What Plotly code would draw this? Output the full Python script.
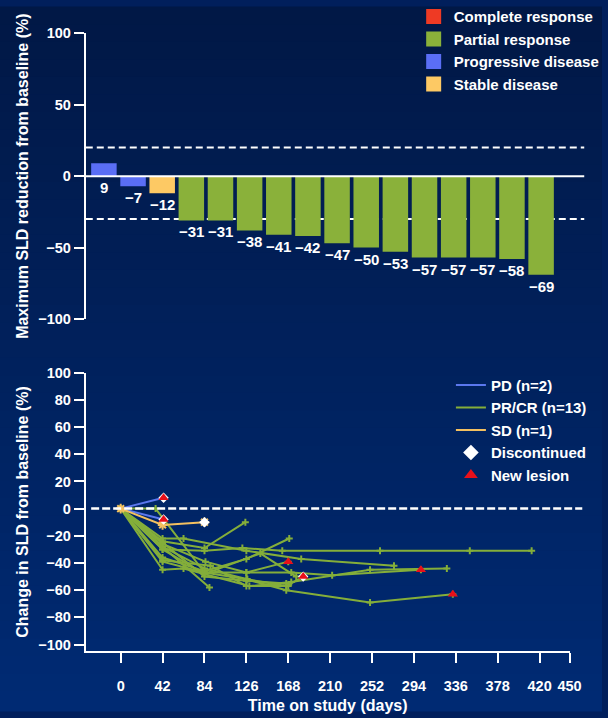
import plotly.graph_objects as go

# ---------------- data ----------------
# Waterfall (best response)
bar_values = [9, -7, -12, -31, -31, -38, -41, -42, -47, -50, -53, -57, -57, -57, -58, -69]
bar_response = ["PD", "PD", "SD", "PR", "PR", "PR", "PR", "PR", "PR", "PR", "PR", "PR", "PR", "PR", "PR", "PR"]

# Spider plot: PD patients
pd_days = [[0, 43], [0, 43]]
pd_vals = [[0, 8], [0, -8]]
# SD patient
sd_days = [0, 42, 84]
sd_vals = [0, -12, -10]
# PR/CR patients
pr_days = [
    [0, 42, 84, 122, 162, 260, 350, 412],
    [0, 42, 84, 125],
    [0, 42, 63, 126, 181, 274],
    [0, 42, 84, 126, 169],
    [0, 42, 89],
    [0, 42, 84, 126, 166, 250, 333],
    [0, 42, 85, 126, 168],
    [0, 42, 84, 127, 166, 183],
    [0, 35, 84, 126, 171, 212, 301],
    [0, 42, 63, 129, 171, 250, 327],
    [0, 42, 90, 126, 168],
    [0, 42, 84, 126, 166],
    [0, 42, 84, 140, 176],
]
pr_vals = [
    [0, -30, -31, -29, -31, -31, -31, -31],
    [0, -24, -29, -10],
    [0, -22, -22, -31, -37, -42],
    [0, -36, -46, -37, -22],
    [0, -28, -58],
    [0, -39, -47, -52, -60, -69, -63],
    [0, -26, -39, -47, -39],
    [0, -28, -44, -52, -57, -50],
    [0, 0, -47, -47, -47, -49, -45],
    [0, -45, -44, -57, -54, -45, -44],
    [0, -38, -42, -57, -57],
    [0, -25, -50, -53, -55],
    [0, -30, -48, -33, -50],
]
# Event markers
disc_days = [43, 43, 84, 183]
disc_vals = [8, -8, -10, -50]
newlesion_days = [43, 43, 168, 183, 301, 333]
newlesion_vals = [8, -8, -39, -50, -45, -63]

x_ticks = [0, 42, 84, 126, 168, 210, 252, 294, 336, 378, 420, 450]

# ---------------- styling ----------------
FONT = "Liberation Sans, Arial, sans-serif"
WHITE = "white"
C_CR = "#ee3a24"
C_PR = "#8ab13a"
C_PD = "#5a6ef5"
C_SD = "#fdc964"
L_PD = "#5b78ee"
L_PR = "#84ae3a"
L_SD = "#f3c060"
RED = "#e8101a"
bar_color_map = {"CR": C_CR, "PR": C_PR, "PD": C_PD, "SD": C_SD}

fig = go.Figure()

# background gradient
top_rgb = (1, 24, 70)
bot_rgb = (0, 42, 115)
n_bands = 40
shapes = []
for i in range(n_bands):
    t = i / (n_bands - 1)
    r = round(top_rgb[0] + (bot_rgb[0] - top_rgb[0]) * t)
    g = round(top_rgb[1] + (bot_rgb[1] - top_rgb[1]) * t)
    b = round(top_rgb[2] + (bot_rgb[2] - top_rgb[2]) * t)
    y1 = 1 - i / n_bands + 0.002
    y0 = 1 - (i + 1) / n_bands - 0.002
    shapes.append(dict(type="rect", xref="paper", yref="paper", x0=-0.01, x1=1.01, y0=y0, y1=y1,
                       fillcolor=f"rgb({r},{g},{b})", line=dict(width=0), layer="below"))

# ---- waterfall ----
idx = list(range(len(bar_values)))
fig.add_trace(go.Bar(x=idx, y=bar_values, marker_color=[bar_color_map[r] for r in bar_response],
                     marker_line_width=0, width=0.875, showlegend=False, xaxis="x", yaxis="y",
                     hoverinfo="skip"))
for name, col in [("Complete response", C_CR), ("Partial response", C_PR),
                  ("Progressive disease", C_PD), ("Stable disease", C_SD)]:
    fig.add_trace(go.Scatter(x=[None], y=[None], mode="markers", name=name,
                             marker=dict(symbol="square", size=15, color=col),
                             xaxis="x", yaxis="y", legend="legend"))

annotations = []
for i, v in enumerate(bar_values):
    label = str(v) if v >= 0 else "\u2212" + str(-v)
    annotations.append(dict(x=i, y=min(v, 0), xref="x", yref="y", text=label, showarrow=False,
                            yanchor="top", yshift=-1,
                            font=dict(family=FONT, size=15, color=WHITE, weight="bold")))

# reference lines on waterfall
shapes.append(dict(type="line", xref="x domain", yref="y", x0=0, x1=1, y0=20, y1=20,
                   line=dict(color=WHITE, width=2, dash="7px,4px"), layer="below"))
shapes.append(dict(type="line", xref="x domain", yref="y", x0=0, x1=1, y0=-30, y1=-30,
                   line=dict(color=WHITE, width=2, dash="7px,4px"), layer="below"))
shapes.append(dict(type="line", xref="x domain", yref="y", x0=0, x1=1, y0=0, y1=0,
                   line=dict(color=WHITE, width=2), layer="above"))

# ---- spider plot ----
shapes.append(dict(type="line", xref="paper", yref="y2", x0=93 / 608, x1=594 / 608, y0=0, y1=0,
                   line=dict(color=WHITE, width=2.5, dash="8px,3px"), layer="above"))

for d, v in zip(pr_days, pr_vals):
    fig.add_trace(go.Scatter(x=d, y=v, mode="lines+markers", xaxis="x2", yaxis="y2",
                             line=dict(color=L_PR, width=2),
                             marker=dict(symbol="cross-thin", size=5, color=L_PR,
                                         line=dict(color=L_PR, width=2)),
                             showlegend=False, hoverinfo="skip"))
for d, v in zip(pd_days, pd_vals):
    fig.add_trace(go.Scatter(x=d, y=v, mode="lines", xaxis="x2", yaxis="y2",
                             line=dict(color=L_PD, width=2), showlegend=False, hoverinfo="skip"))
fig.add_trace(go.Scatter(x=sd_days, y=sd_vals, mode="lines+markers", xaxis="x2", yaxis="y2",
                         line=dict(color=L_SD, width=2),
                         marker=dict(symbol="asterisk", size=8, color=L_SD,
                                     line=dict(color=L_SD, width=2)),
                         showlegend=False, hoverinfo="skip"))

fig.add_trace(go.Scatter(x=disc_days, y=disc_vals, mode="markers", xaxis="x2", yaxis="y2",
                         marker=dict(symbol="diamond", size=8, color=WHITE, line=dict(width=0)),
                         showlegend=False, hoverinfo="skip"))
fig.add_trace(go.Scatter(x=newlesion_days, y=newlesion_vals, mode="markers", xaxis="x2", yaxis="y2",
                         marker=dict(symbol="triangle-up", size=9, color=RED, line=dict(width=0)),
                         showlegend=False, hoverinfo="skip"))

# legend entries for spider plot
for name, col in [("PD (n=2)", L_PD), ("PR/CR (n=13)", L_PR), ("SD (n=1)", L_SD)]:
    fig.add_trace(go.Scatter(x=[None], y=[None], mode="lines", name=name,
                             line=dict(color=col, width=2), xaxis="x2", yaxis="y2", legend="legend2"))
fig.add_trace(go.Scatter(x=[None], y=[None], mode="markers", name="Discontinued",
                         marker=dict(symbol="diamond", size=12, color=WHITE),
                         xaxis="x2", yaxis="y2", legend="legend2"))
fig.add_trace(go.Scatter(x=[None], y=[None], mode="markers", name="New lesion",
                         marker=dict(symbol="triangle-up", size=12, color=RED),
                         xaxis="x2", yaxis="y2", legend="legend2"))

tickfont = dict(family=FONT, size=14.5, color=WHITE, weight="bold")
titlefont = dict(family=FONT, size=16, color=WHITE, weight="bold")
legfont = dict(family=FONT, size=15, color=WHITE, weight="bold")

fig.update_layout(
    width=608, height=718,
    margin=dict(l=0, r=0, t=0, b=0),
    paper_bgcolor="#011f5c",
    plot_bgcolor="rgba(0,0,0,0)",
    font=dict(family=FONT, color=WHITE),
    shapes=shapes,
    annotations=annotations,
    xaxis=dict(domain=[87.5 / 608, 596 / 608], anchor="y", range=[-0.622, 16.48],
               showline=False, showticklabels=False, ticks="", showgrid=False, zeroline=False),
    yaxis=dict(domain=[1 - 318 / 718, 1 - 26 / 718], anchor="x", range=[-100, 100],
               tickvals=[-100, -50, 0, 50, 100], showgrid=False, zeroline=False,
               showline=True, linecolor=WHITE, linewidth=2, ticks="outside", ticklen=10,
               tickwidth=2, tickcolor=WHITE, tickfont=tickfont,
               title=dict(text="Maximum SLD reduction from baseline (%)", font=titlefont, standoff=6)),
    xaxis2=dict(domain=[87.5 / 608, 581 / 608], anchor="y2", range=[-35, 450],
                tickvals=x_ticks, showgrid=False, zeroline=False,
                showline=True, linecolor=WHITE, linewidth=2, ticks="outside", ticklen=10,
                tickwidth=2, tickcolor=WHITE, tickfont=tickfont, ticklabelstandoff=10,
                title=dict(text="Time on study (days)", font=titlefont, standoff=7)),
    yaxis2=dict(domain=[1 - 658 / 718, 1 - 373 / 718], anchor="x2", range=[-105, 100],
                tickvals=list(range(-100, 101, 20)), showgrid=False, zeroline=False,
                showline=True, linecolor=WHITE, linewidth=2, ticks="outside", ticklen=10,
                tickwidth=2, tickcolor=WHITE, tickfont=tickfont,
                title=dict(text="Change in SLD from baseline (%)", font=titlefont, standoff=6)),
    legend=dict(x=422 / 608, y=1 + 8 / 718, xanchor="left", yanchor="top",
                bgcolor="rgba(0,0,0,0)", font=legfont, itemwidth=30, tracegroupgap=0),
    legend2=dict(x=460 / 608, y=1 - 369 / 718, xanchor="left", yanchor="top",
                 bgcolor="rgba(0,0,0,0)", font=legfont, itemwidth=30, tracegroupgap=0),
)

fig.write_html(
    "out.html",
    config={"displayModeBar": False},
    post_script=("document.documentElement.style.margin='0px';"
                 "document.body.style.margin='0px';document.body.style.overflow='hidden';"
                 "document.documentElement.style.background='#012a72';"
                 "document.body.style.background='#012a72';"),
)
